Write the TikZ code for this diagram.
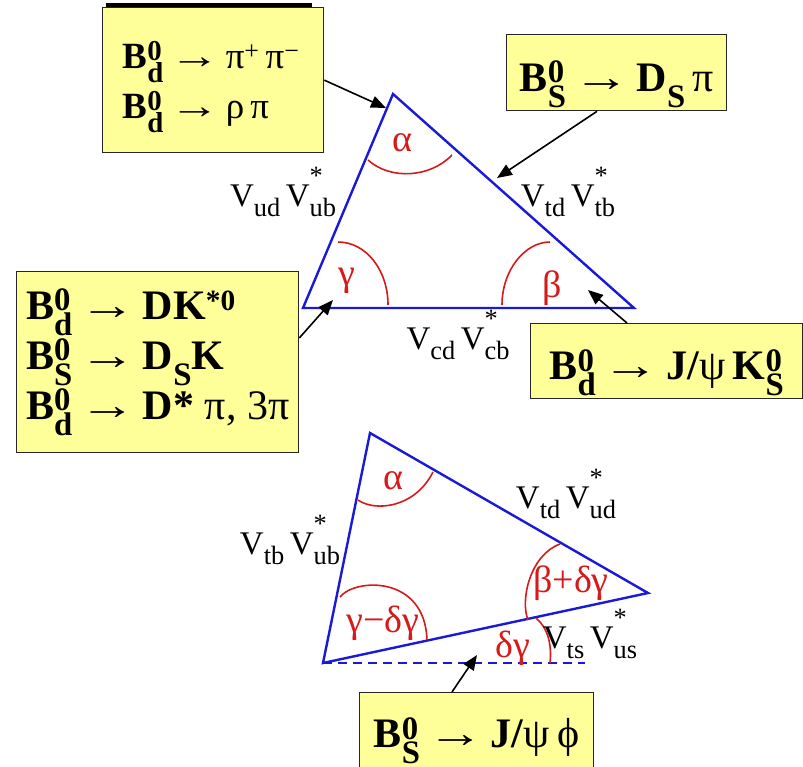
\documentclass[tikz,border=0pt]{standalone}
\usepackage{fontspec}
\setmainfont{Liberation Serif}
\usepackage{graphicx}
\usetikzlibrary{arrows.meta,calc}
\definecolor{NoteYellow}{RGB}{255,255,153}
\definecolor{TriBlue}{RGB}{25,25,215}
\definecolor{AngleRed}{RGB}{215,25,25}
% sub- and superscript stacked after a letter
\newcommand{\sbsp}[2]{\rlap{\raisebox{0.2em}{\scalebox{0.78}{#2}}}\raisebox{-0.38em}{\scalebox{0.78}{#1}}}
\newcommand{\Vsub}[1]{V\raisebox{-0.3em}{\scalebox{0.8}{#1}}}
\newcommand{\Vstar}[1]{V\rlap{\raisebox{0.66em}{\scalebox{0.8}{*}}}\raisebox{-0.3em}{\scalebox{0.8}{#1}}}
\newcommand{\goesto}{\,\scalebox{1.35}[1]{→}\,}

\begin{document}
\begin{tikzpicture}[x=1pt, y=-1pt,
    decay/.style={draw=black!85, fill=NoteYellow, line width=1.3pt, anchor=north west, inner sep=0pt,
      font=\fontsize{42}{50}\selectfont},
    oneline/.style={text height=37pt, text depth=0pt},
    tri/.style={TriBlue, line width=2.4pt, line join=miter},
    arcred/.style={AngleRed, line width=1.6pt},
    arr/.style={-{Triangle[length=15pt,width=12pt]}, line width=1.6pt, black},
    ckmlab/.style={font=\fontsize{33}{35}\selectfont},
    anglab/.style={text=AngleRed, font=\fontsize{38}{40}\selectfont}
  ]
  \useasboundingbox (0,0) rectangle (803,766);

  % Upper triangle
  \coordinate (ua) at (393,94);
  \coordinate (ul) at (303,308);
  \coordinate (ur) at (634,308);
  \draw[tri] (ua) -- (ul) -- (ur) -- cycle;
  \draw[arcred] (368,160) .. controls (390,180) and (430,178) .. (452,155);
  \draw[arcred] (338,242) .. controls (366,242) and (388,270) .. (388,305);
  \draw[arcred] (502,305) .. controls (502,270) and (525,242) .. (550,242);
  \node[anglab] (ualpha) at (402,143) {α};
  \node[anglab] (ugamma) at (347,281) {γ};
  \node[anglab] (ubeta) at (552,288) {β};
  \node[ckmlab] (vub) at (283,192) {\Vsub{ud}\,\Vstar{ub}};
  \node[ckmlab] (vtb) at (568,192) {\Vsub{td}\,\Vstar{tb}};
  \node[ckmlab] (vcb) at (458,335) {\Vsub{cd}\,\Vstar{cb}};

  % Lower triangle
  \coordinate (la) at (370,433);
  \coordinate (lr) at (648,593);
  \coordinate (ll) at (323,663);
  \coordinate (ldash) at (585,663);
  \draw[tri] (la) -- (lr) -- (ll) -- cycle;
  \draw[tri, line width=2pt, dash pattern=on 9pt off 6pt] (ll) -- (ldash);
  \draw[arcred] (358,500) .. controls (375,512) and (415,508) .. (433,472);
  \draw[arcred] (340,597) .. controls (355,578) and (425,575) .. (427,640);
  \draw[arcred] (560,544) .. controls (530,555) and (520,600) .. (528,620);
  \draw[arcred] (536,618) .. controls (548,628) and (552,645) .. (550,663);
  \node[anglab] (lalpha) at (393,481) {α};
  \node[anglab] (lgamma) at (383,623) {γ−δγ};
  \node[anglab] (lbeta) at (571,583) {β+δγ};
  \node[anglab] (ldelta) at (513,648) {δγ};
  \node[ckmlab] (vud) at (566,494) {\Vsub{td}\,\Vstar{ud}};
  \node[ckmlab] (vubl) at (290,540) {\Vsub{tb}\,\Vstar{ub}};
  \node[ckmlab] (vus) at (590,634) {\Vsub{ts}\,\Vstar{us}};

  % Decay boxes
  \node[decay, minimum width=221pt, minimum height=145pt] (bdpipi) at (102,7) {};
  \node[font=\fontsize{37}{50}\selectfont, align=left] (bdpipitxt) at ([xshift=-2pt,yshift=-7pt]bdpipi.center)
    {\textbf{B\sbsp{d}{0}}\goesto π\textsuperscript{+}\,π\textsuperscript{−}\\ \textbf{B\sbsp{d}{0}}\goesto ρ\,π};
  \draw[line width=3.5pt] ([xshift=4pt,yshift=2pt]bdpipi.north west) -- ([xshift=-12pt,yshift=2pt]bdpipi.north east);
  \node[decay, oneline, minimum width=220pt, minimum height=76pt] (bsdspi) at (506,34)
    {\textbf{B\sbsp{S}{0}}\goesto\textbf{D\raisebox{-0.38em}{\scalebox{0.78}{S}}}\,π};
  \node[decay, align=left, minimum width=282pt, minimum height=181pt] (gambox) at (16,271)
    {\textbf{B\sbsp{d}{0}}\goesto\textbf{DK\textsuperscript{*0}}\\
     \textbf{B\sbsp{S}{0}}\goesto\textbf{D\raisebox{-0.38em}{\scalebox{0.78}{S}}K}\\
     \textbf{B\sbsp{d}{0}}\goesto\textbf{D*} π, 3π};
  \node[decay, oneline, minimum width=272pt, minimum height=75pt] (psiks) at (530,323)
    {\textbf{B\sbsp{d}{0}}\goesto\textbf{J/}ψ\,\textbf{K\sbsp{S}{0}}};
  \node[decay, oneline, text height=30pt, minimum width=234pt, minimum height=80pt] (psiphi) at (359,692)
    {\textbf{B\sbsp{S}{0}}\goesto\textbf{J/}ψ\,ϕ};

  % Arrows to the sides
  \coordinate (tipalpha) at (386,108);
  \coordinate (tiptop) at (497,178);
  \coordinate (tipgamma) at (333,300);
  \coordinate (tipbeta) at (588,290);
  \coordinate (tipphi) at (477,655);
  \draw[arr] (bdpipi.east) -- (tipalpha);
  \draw[arr] ([xshift=91pt]bsdspi.south west) -- (tiptop);
  \draw[arr] ([yshift=-67pt]gambox.north east) -- (tipgamma);
  \draw[arr] ([xshift=97pt]psiks.north west) -- (tipbeta);
  \draw[arr] ([xshift=93pt]psiphi.north west) -- (tipphi);
\end{tikzpicture}
\end{document}
